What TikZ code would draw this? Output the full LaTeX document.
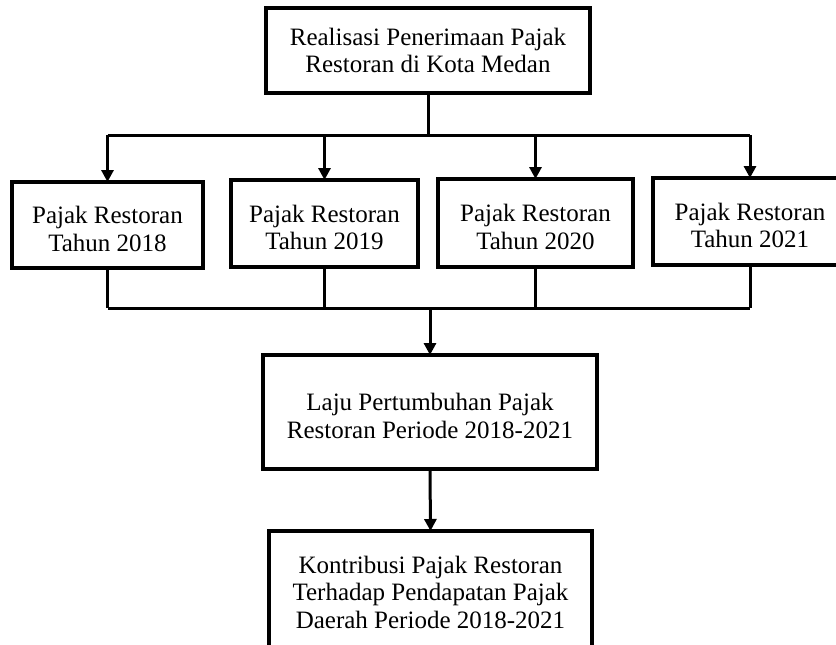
\documentclass[tikz,border=0pt]{standalone}
\usepackage{fontspec}
\setmainfont{Liberation Serif}
\usetikzlibrary{arrows.meta}
\newcommand{\tupstrut}{\rule{0pt}{25pt}}
\tikzset{
  box/.style={draw, line width=4pt, align=center, inner sep=0pt, outer sep=0pt,
    font=\fontsize{25}{27.5}\selectfont},
  link/.style={line width=3pt},
  arr/.style={line width=3pt, -{Triangle[length=12pt,width=12pt]}},
}
\begin{document}
\begin{tikzpicture}[x=1pt,y=-1pt]
\useasboundingbox (0,0) rectangle (836,645);
\clip (0,0) rectangle (836,645);
\node[box, minimum width=324pt, minimum height=85pt] (top) at (428,50.5)
  {Realisasi Penerimaan Pajak\\Restoran di Kota Medan};
\node[box, minimum width=191pt, minimum height=86pt] (b1) at (107.5,225)
  {\tupstrut Pajak Restoran\\Tahun 2018};
\node[box, minimum width=187pt, minimum height=87pt] (b2) at (324.5,223.5)
  {\tupstrut Pajak Restoran\\Tahun 2019};
\node[box, minimum width=195pt, minimum height=88pt] (b3) at (535.5,223)
  {\tupstrut Pajak Restoran\\Tahun 2020};
\node[box, minimum width=194pt, minimum height=87pt] (b4) at (750,221.5)
  {\tupstrut Pajak Restoran\\Tahun 2021};
\node[box, minimum width=334pt, minimum height=114pt] (mid) at (430,412)
  {\tupstrut Laju Pertumbuhan Pajak\\Restoran Periode 2018-2021};
\node[box, minimum width=323pt, minimum height=122pt] (bot) at (430.5,592)
  {Kontribusi Pajak Restoran\\Terhadap Pendapatan Pajak\\Daerah Periode 2018-2021};
\coordinate (busA) at (0,135);
\coordinate (busB) at (0,308);
% top distribution
\draw[link] (top.south) -- (top.south |- busA);
\draw[link] (b1.north |- busA) -- (b4.north |- busA);
\draw[arr] (b1.north |- busA) -- (b1.north);
\draw[arr] (b2.north |- busA) -- (b2.north);
\draw[arr] (b3.north |- busA) -- (b3.north);
\draw[arr] (b4.north |- busA) -- (b4.north);
% collection
\draw[link] (b1.south) -- (b1.south |- busB);
\draw[link] (b2.south) -- (b2.south |- busB);
\draw[link] (b3.south) -- (b3.south |- busB);
\draw[link] (b4.south) -- (b4.south |- busB);
\draw[link] (b1.south |- busB) -- (b4.south |- busB);
\draw[arr] (mid.north |- busB) -- (mid.north);
\draw[arr] (mid.south) -- (bot.north);
\end{tikzpicture}
\end{document}
